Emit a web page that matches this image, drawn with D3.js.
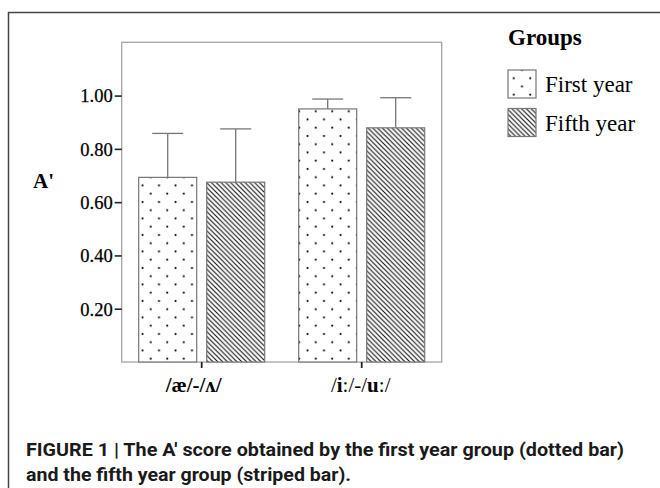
<!DOCTYPE html>
<html>
<head>
<meta charset="utf-8">
<script src="https://cdn.jsdelivr.net/npm/d3@7"></script>
<style>
  html, body { margin: 0; padding: 0; background: #fff; }
  svg { display: block; }
</style>
</head>
<body>
<svg id="chart" width="660" height="488"></svg>
<script>
// ---- data ----
const categories = ["/æ/-/ʌ/", "/i:/-/u:/"];
const groups = ["First year", "Fifth year"];
const firstYear = [0.693, 0.950];
const fifthYear = [0.675, 0.879];
const firstYearUpper = [0.858, 0.987];
const fifthYearUpper = [0.875, 0.992];
const yTicks = [0.2, 0.4, 0.6, 0.8, 1.0];
const yLabel = "A'";
const legendTitle = "Groups";
const captionLines = [
  "FIGURE 1 | The A\u2032 score obtained by the first year group (dotted bar)",
  "and the fifth year group (striped bar)."
];

const values = [firstYear, fifthYear];
const uppers = [firstYearUpper, fifthYearUpper];

const svg = d3.select("#chart");
const serif = "'Liberation Serif', 'Times New Roman', serif";

// outer border
svg.append("rect").attr("x", 8.5).attr("y", 12.5).attr("width", 700).attr("height", 520)
  .attr("fill", "none").attr("stroke", "#444").attr("stroke-width", 1.5);

// patterns
const defs = svg.append("defs");
const dots = defs.append("pattern").attr("id", "dots").attr("patternUnits", "userSpaceOnUse")
  .attr("width", 16.5).attr("height", 16.5).attr("x", 139).attr("y", 0);
dots.append("rect").attr("width", 16.5).attr("height", 16.5).attr("fill", "#fff");
dots.append("circle").attr("cx", 3.5).attr("cy", 4).attr("r", 1.05).attr("fill", "#000");
dots.append("circle").attr("cx", 11.75).attr("cy", 12.25).attr("r", 1.05).attr("fill", "#000");

const s = 4.8;
const stripes = defs.append("pattern").attr("id", "stripes").attr("patternUnits", "userSpaceOnUse")
  .attr("width", s).attr("height", s);
stripes.append("rect").attr("width", s).attr("height", s).attr("fill", "#fff");
stripes.append("path")
  .attr("d", `M0,0 L${s},${s} M${-s/2},${s/2} L${s/2},${s*1.5} M${s/2},${-s/2} L${s*1.5},${s/2}`)
  .attr("stroke", "#111").attr("stroke-width", 1.15);

const fills = ["url(#dots)", "url(#stripes)"];

// scales
const plotLeft = 121.7, plotRight = 441.7, plotTop = 42.3, plotBottom = 362;
const x0 = d3.scaleBand().domain(categories).range([plotLeft, plotRight]).padding(0);
const x1 = d3.scaleBand().domain(groups).range([0, x0.bandwidth()])
  .paddingInner(10 / 68).paddingOuter(0.25);
const y = d3.scaleLinear().domain([0, 1.2]).range([plotBottom, plotTop]);

// frame
svg.append("rect").attr("x", plotLeft).attr("y", plotTop)
  .attr("width", plotRight - plotLeft).attr("height", plotBottom - plotTop)
  .attr("fill", "none").attr("stroke", "#a5a5a5").attr("stroke-width", 1.3);

// y axis
const yAxis = d3.axisLeft(y).tickValues(yTicks).tickFormat(d3.format(".2f"))
  .tickSize(7).tickPadding(2);
const gy = svg.append("g").attr("transform", `translate(${plotLeft},0)`).call(yAxis);
gy.select(".domain").remove();
gy.selectAll(".tick line").attr("stroke", "#222").attr("stroke-width", 1.6);
gy.selectAll(".tick text").attr("font-family", serif).attr("font-size", 18.5).attr("fill", "#000")
  .attr("stroke", "#000").attr("stroke-width", 0.25)
  .attr("dy", "0.34em");

// x axis
const xAxis = d3.axisBottom(x0).tickSize(6).tickFormat("");
const gx = svg.append("g").attr("transform", `translate(0,${plotBottom})`).call(xAxis);
gx.select(".domain").remove();
gx.selectAll(".tick line").attr("stroke", "#222").attr("stroke-width", 1.8);

// category labels
const labelOffsets = [-8, -1];
categories.forEach((c, i) => {
  const t = svg.append("text")
    .attr("x", x0(c) + x0.bandwidth() / 2 + labelOffsets[i])
    .attr("y", 392)
    .attr("text-anchor", "middle")
    .attr("font-family", serif).attr("font-size", 21).attr("fill", "#000");
  if (i === 0) {
    t.attr("font-weight", "bold").text(c);
  } else {
    Array.from(c).forEach(ch => {
      t.append("tspan").attr("font-weight", /[iu]/.test(ch) ? "bold" : "normal").text(ch);
    });
  }
});

// bars
groups.forEach((g, gi) => {
  const gg = svg.append("g");
  gg.selectAll("rect").data(categories).join("rect")
    .attr("x", c => x0(c) + x1(g))
    .attr("y", (c, i) => y(values[gi][i]))
    .attr("width", x1.bandwidth())
    .attr("height", (c, i) => y(0) - y(values[gi][i]))
    .attr("fill", fills[gi])
    .attr("stroke", "#777").attr("stroke-width", 1.2);
  // error bars
  const capW = 31;
  gg.selectAll("line.v").data(categories).join("line").attr("class", "v")
    .attr("x1", c => x0(c) + x1(g) + x1.bandwidth() / 2)
    .attr("x2", c => x0(c) + x1(g) + x1.bandwidth() / 2)
    .attr("y1", (c, i) => y(values[gi][i]))
    .attr("y2", (c, i) => y(uppers[gi][i]))
    .attr("stroke", "#777").attr("stroke-width", 1.3);
  gg.selectAll("line.cap").data(categories).join("line").attr("class", "cap")
    .attr("x1", c => x0(c) + x1(g) + x1.bandwidth() / 2 - capW / 2)
    .attr("x2", c => x0(c) + x1(g) + x1.bandwidth() / 2 + capW / 2)
    .attr("y1", (c, i) => y(uppers[gi][i]))
    .attr("y2", (c, i) => y(uppers[gi][i]))
    .attr("stroke", "#777").attr("stroke-width", 1.3);
});

// y label
svg.append("text").attr("x", 33).attr("y", 188)
  .attr("font-family", serif).attr("font-size", 21).attr("font-weight", "bold").attr("fill", "#000")
  .text(yLabel);

// legend
svg.append("text").attr("x", 508).attr("y", 45)
  .attr("font-family", serif).attr("font-size", 23).attr("font-weight", "bold").attr("fill", "#000")
  .text(legendTitle);
const legY = [70, 108.5];
groups.forEach((g, gi) => {
  svg.append("rect").attr("x", 508).attr("y", legY[gi]).attr("width", 28).attr("height", 28)
    .attr("fill", fills[gi]).attr("stroke", "#777").attr("stroke-width", 1.2);
  svg.append("text").attr("x", 545).attr("y", legY[gi] + 22)
    .attr("font-family", serif).attr("font-size", 23).attr("fill", "#000")
    .text(g);
});

// caption
const capWidths = [598, 325];
captionLines.forEach((line, i) => {
  svg.append("text").attr("x", 26).attr("y", 456 + i * 25)
    .attr("font-family", "'Liberation Sans Narrow', 'Roboto', 'Liberation Sans', sans-serif")
    .attr("font-size", 17.5).attr("font-weight", "bold").attr("fill", "#1a1a1a")
    .attr("textLength", capWidths[i]).attr("lengthAdjust", "spacingAndGlyphs")
    .text(line);
});
</script>
</body>
</html>
